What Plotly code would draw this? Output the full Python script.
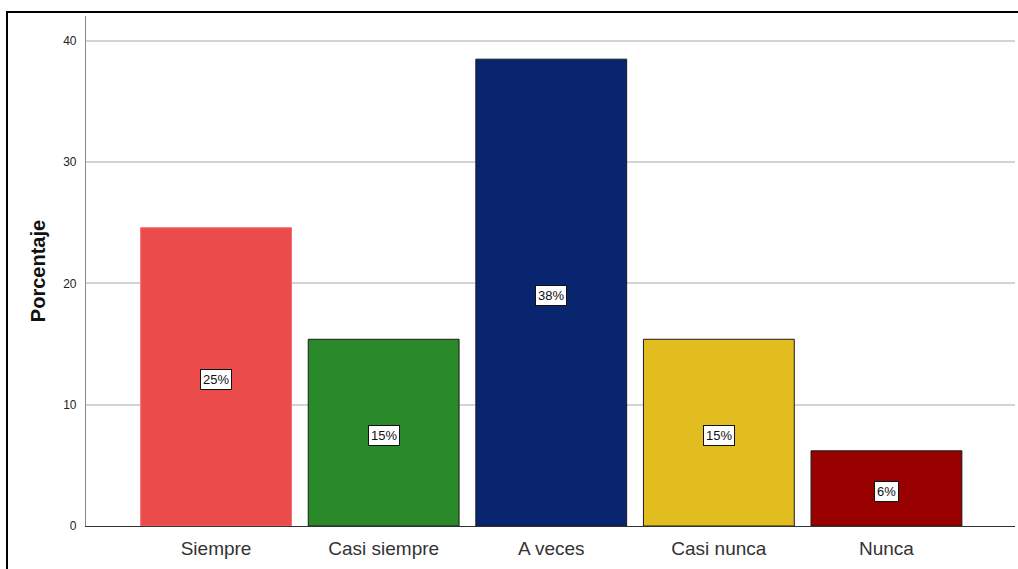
import plotly.graph_objects as go

# Response categories and their percentages (n = 65)
categories = ["Siempre", "Casi siempre", "A veces", "Casi nunca", "Nunca"]
percentages = [24.6, 15.4, 38.5, 15.4, 6.2]
bar_colors = ["#EB4B4B", "#2A8A2A", "#0A2570", "#E2BD20", "#990000"]
outline_colors = ["#F07070", "#1a1a1a", "#1a1a1a", "#1a1a1a", "#1a1a1a"]
y_ticks = [0, 10, 20, 30, 40]

W, H = 1018, 569
L, R, T, B = 86, 3, 16, 43
PW, PH = W - L - R, H - T - B

fig = go.Figure(
    go.Bar(
        x=list(range(len(categories))),
        y=percentages,
        width=0.9,
        marker=dict(color=bar_colors, line=dict(color=outline_colors, width=1)),
        hoverinfo="skip",
    )
)

# Percentage labels centred in each bar
for i, v in enumerate(percentages):
    fig.add_annotation(
        x=i, y=v / 2, text=f"{round(v)}%", showarrow=False, yshift=-3,
        font=dict(family="Arial, Liberation Sans", size=13, color="#111"),
        bgcolor="white", bordercolor="#111", borderwidth=1, borderpad=2,
    )

# Outer frame of the chart
def px_to_paper_x(px):
    return (px - L) / PW

def px_to_paper_y(py):
    return (H - B - py) / PH

fig.add_shape(
    type="rect", xref="paper", yref="paper",
    x0=px_to_paper_x(7), x1=px_to_paper_x(1030),
    y0=px_to_paper_y(590), y1=px_to_paper_y(12),
    line=dict(color="black", width=2), fillcolor="rgba(0,0,0,0)", layer="above",
)

fig.update_layout(
    width=W, height=H,
    margin=dict(l=L, r=R, t=T, b=B),
    paper_bgcolor="white", plot_bgcolor="white",
    showlegend=False,
    font=dict(family="Arial, Liberation Sans", color="#222"),
    xaxis=dict(
        range=[-0.776, 4.767],
        tickmode="array", tickvals=list(range(len(categories))), ticktext=categories,
        tickfont=dict(size=19, color="#333"),
        showgrid=False, zeroline=False,
        showline=True, linecolor="#333", linewidth=1.2,
        ticks="", ticklabelstandoff=5,
    ),
    yaxis=dict(
        range=[0, 42.06],
        tickvals=y_ticks,
        tickfont=dict(size=12, color="#222"),
        showgrid=True, gridcolor="#d4d4d4", gridwidth=1.6,
        zeroline=False,
        showline=True, linecolor="#888", linewidth=1.2,
        ticks="", ticklabelstandoff=6,
        title=dict(text="<b>Porcentaje</b>", font=dict(size=20, color="#111"), standoff=12),
    ),
)

fig.write_html("out.html")
